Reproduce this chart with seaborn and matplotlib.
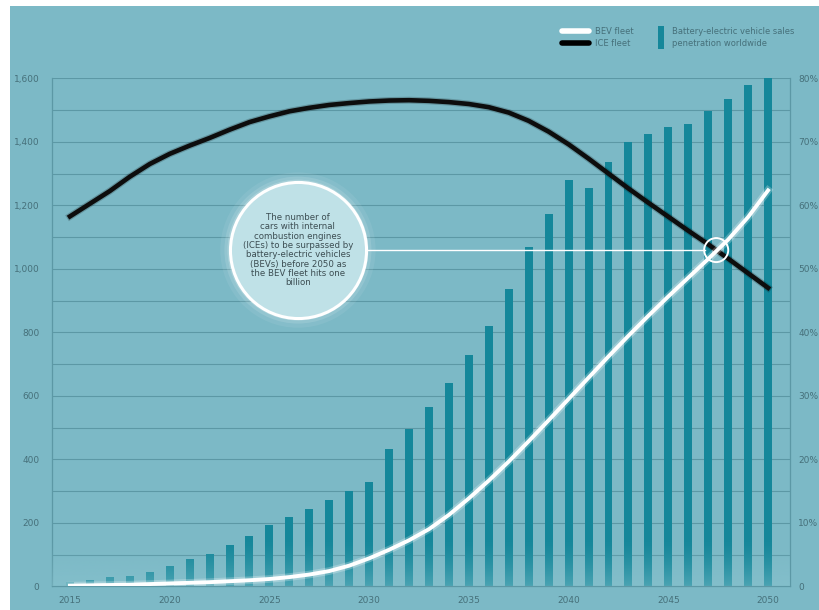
import matplotlib
matplotlib.use("Agg")
import matplotlib.pyplot as plt
import matplotlib.patheffects as pe
from matplotlib.lines import Line2D
from matplotlib.patches import Rectangle
from matplotlib.colors import to_rgb
import numpy as np
import seaborn as sns
import pandas as pd

years = list(range(2015, 2051))
bev_share_pct = [0.6, 1.0, 1.4, 1.6, 2.3, 3.2, 4.3, 5.1, 6.5, 7.9, 9.6, 10.9, 12.2, 13.6,
                 15.0, 16.4, 21.7, 24.7, 28.3, 32.0, 36.4, 41.0, 46.8, 53.5, 58.7, 64.0,
                 62.8, 66.8, 70.0, 71.2, 72.4, 72.8, 74.8, 76.8, 79.0, 80.0]
ice_fleet = [1165, 1205, 1245, 1290, 1330, 1362, 1388, 1412, 1438, 1462, 1480, 1496,
             1507, 1516, 1522, 1527, 1530, 1531, 1529, 1525, 1519, 1509, 1492, 1466,
             1432, 1392, 1347, 1300, 1253, 1208, 1164, 1120, 1077, 1032, 986, 940]
bev_fleet = [2, 3, 4, 5, 7, 9, 11, 13, 16, 19, 23, 29, 37, 48, 65, 88, 115, 145, 180,
             225, 277, 333, 393, 457, 523, 590, 657, 724, 789, 852, 913, 972, 1031,
             1092, 1163, 1247]
left_ticks = [0, 200, 400, 600, 800, 1000, 1200, 1400, 1600]
left_labels = ["0", "200", "400", "600", "800", "1,000", "1,200", "1,400", "1,600"]
right_ticks = [0, 10, 20, 30, 40, 50, 60, 70, 80]
right_labels = ["0", "10%", "20%", "30%", "40%", "50%", "60%", "70%", "80%"]
xtick_years = [2015, 2020, 2025, 2030, 2035, 2040, 2045, 2050]
callout_text = ("The number of\ncars with internal\ncombustion engines\n(ICEs) to be surpassed by\n"
                "battery-electric vehicles\n(BEVs) before 2050 as\nthe BEV fleet hits one\nbillion")

BG = "#7cb9c6"
BAR = "#15879a"
GRID = "#5c98a5"
TXT = "#46707a"

df = pd.DataFrame({"year": years, "share": bev_share_pct,
                   "idx": list(range(len(years))), "ice": ice_fleet, "bev": bev_fleet})

fig = plt.figure(figsize=(8.19, 6.10), dpi=100, facecolor="white")
fig.patches.append(Rectangle((10 / 819, 0), 1, 604 / 610, transform=fig.transFigure,
                             facecolor=BG, edgecolor="none", zorder=-10))

ax = fig.add_axes([52 / 819, 1 - 586.3 / 610, (790 - 52) / 819, (586.3 - 78.3) / 610])
ax.set_facecolor("none")

sns.barplot(data=df, x="year", y="share", color=BAR, width=0.4, saturation=1,
            ax=ax, zorder=2)

# soft fade of the bars towards the baseline (top row transparent, bottom row strongest)
grad = np.zeros((100, 2, 4))
grad[..., :3] = to_rgb("#8cc6d1")
grad[..., 3] = (np.linspace(0.0, 1.0, 100)[:, None] ** 1.6) * 0.45
ax.imshow(grad, extent=(-0.9, 36.1, 0, 8), aspect="auto", zorder=3,
          interpolation="bilinear", origin="upper")
ax.set_xlim(-0.9, 36.1)
ax.set_ylim(0, 80)

ax.set_yticks(right_ticks)
ax.set_yticks([5, 15, 25, 35, 45, 55, 65, 75], minor=True)
ax.set_yticklabels(right_labels)
ax.grid(True, axis="y", which="both", color=GRID, lw=0.8)
ax.set_axisbelow(True)
ax.set_xticks([years.index(y) for y in xtick_years])
ax.set_xticklabels([str(y) for y in xtick_years])
ax.set_xlabel("")
ax.set_ylabel("")

axl = ax.twinx()
ax.yaxis.tick_right()
axl.yaxis.tick_left()
ax.tick_params(axis="both", which="both", length=0, labelsize=6.5, labelcolor=TXT)
ax.tick_params(axis="y", which="both", pad=6)
ax.tick_params(axis="x", pad=7)
ax.spines["top"].set_visible(False)
for s in ["left", "right", "bottom"]:
    ax.spines[s].set_color(GRID)
    ax.spines[s].set_linewidth(0.9)

axl.set_ylim(0, 1600)
axl.set_yticks(left_ticks)
axl.set_yticklabels(left_labels)
axl.tick_params(axis="y", length=0, labelsize=6.5, labelcolor=TXT, pad=9)
for s in axl.spines.values():
    s.set_visible(False)

sns.lineplot(data=df, x="idx", y="ice", color="#0d0d0d", lw=3.3, ax=axl,
             path_effects=[pe.Stroke(linewidth=5, foreground="#000000", alpha=0.2), pe.Normal()])
sns.lineplot(data=df, x="idx", y="bev", color="white", lw=2.8, ax=axl,
             path_effects=[pe.Stroke(linewidth=5.5, foreground="white", alpha=0.25), pe.Normal()])
axl.set_xlabel("")
axl.set_ylabel("")
axl.set_xlim(-0.9, 36.1)

# callout
cx, cy = 11.43, 1059
mx = 32.4
axl.plot([cx + 3.3, mx - 0.55], [cy, cy], color="white", lw=1.0, zorder=5)
for s_, a_ in [(12500, 0.07), (11200, 0.12), (10300, 0.18)]:
    axl.scatter([cx], [cy], s=s_, color="white", alpha=a_, edgecolors="none", zorder=6)
axl.scatter([cx], [cy], s=9600, facecolor="#bfe1e7", edgecolors="white", linewidths=2.2, zorder=7)
axl.text(cx, cy, callout_text, ha="center", va="center", fontsize=6.2, color="#3c4d52",
         linespacing=1.05, zorder=8)
axl.scatter([mx], [cy], s=300, facecolor="none", edgecolors="white", linewidths=1.4, zorder=8)

# legend
fig.add_artist(Line2D([562 / 819, 589 / 819], [1 - 31 / 610] * 2, color="white", lw=4,
                      solid_capstyle="round", transform=fig.transFigure))
fig.add_artist(Line2D([562 / 819, 589 / 819], [1 - 43 / 610] * 2, color="black", lw=4,
                      solid_capstyle="round", transform=fig.transFigure))
fig.text(595 / 819, 1 - 31 / 610, "BEV fleet", fontsize=6, color=TXT, va="center")
fig.text(595 / 819, 1 - 43 / 610, "ICE fleet", fontsize=6, color=TXT, va="center")
fig.patches.append(Rectangle((658 / 819, 1 - 49 / 610), 6 / 819, 23 / 610,
                             transform=fig.transFigure, facecolor=BAR, edgecolor="none"))
fig.text(672 / 819, 1 - 31 / 610, "Battery-electric vehicle sales", fontsize=6, color=TXT, va="center")
fig.text(672 / 819, 1 - 43 / 610, "penetration worldwide", fontsize=6, color=TXT, va="center")

fig.savefig("out.png", dpi=100, facecolor=fig.get_facecolor())
